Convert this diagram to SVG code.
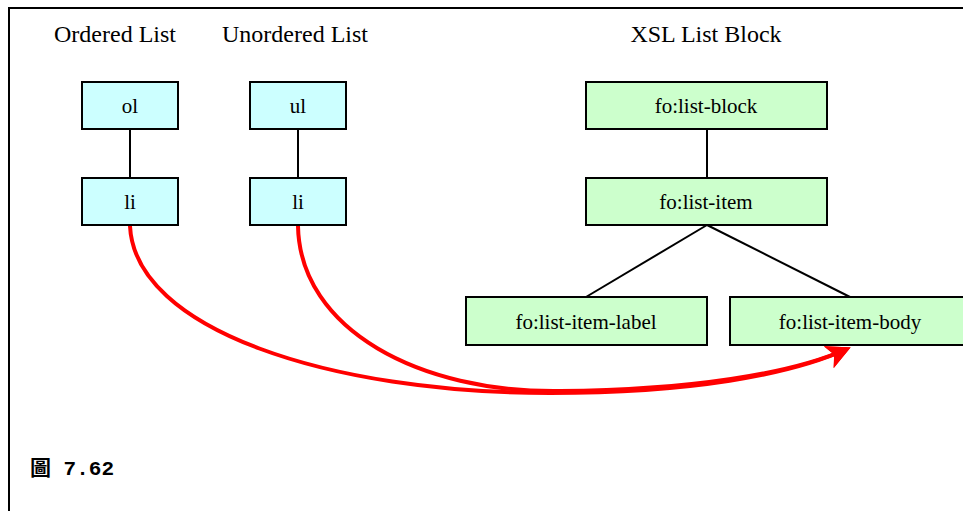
<svg xmlns="http://www.w3.org/2000/svg" width="963" height="511" viewBox="0 0 963 511">
<defs>
<style>
.frame{fill:none;stroke:#000;stroke-width:2}
.b{stroke:#000;stroke-width:2}
.c{fill:#ccffff}
.g{fill:#ccffcc}
.t{font-size:21px;fill:#000;text-anchor:middle}
.h{font-size:24px;fill:#000;text-anchor:middle}
.ln{stroke:#000;stroke-width:2;fill:none}
.red{stroke:#ff0000;stroke-width:4;fill:none}
</style>
<marker id="ah" viewBox="0 0 12 12" refX="10" refY="6" markerWidth="6" markerHeight="6" orient="auto" markerUnits="strokeWidth">
<path d="M0,0 L12,6 L0,12 L3,6 Z" fill="#ff0000"/>
</marker>
</defs>
<rect width="963" height="511" fill="#fff"/>
<path class="frame" d="M9,511 V8 H963"/>
<g font-family="Liberation Serif, Times New Roman, Tinos, serif">
<text class="h" x="115" y="42">Ordered List</text>
<text class="h" x="295" y="42">Unordered List</text>
<text class="h" x="706" y="42">XSL List Block</text>
<g id="connectors">
<line class="ln" x1="130" y1="129" x2="130" y2="178"/>
<line class="ln" x1="298" y1="129" x2="298" y2="178"/>
<line class="ln" x1="707" y1="129" x2="707" y2="178"/>
<line class="ln" x1="707" y1="225" x2="586" y2="297"/>
<line class="ln" x1="707" y1="225" x2="850" y2="297"/>
<path class="red" d="M130,226 C135,330 330,393 550,393 C690,393 790,375 847,349" marker-end="url(#ah)"/>
<path class="red" d="M298,226 C300,330 420,393 560,391 C690,390 790,374 847,349" marker-end="url(#ah)"/>
</g>
<g id="ol"><rect class="b c" x="82" y="82" width="96" height="47"/><text class="t" x="130" y="113">ol</text></g>
<g id="li1"><rect class="b c" x="82" y="178" width="96" height="47"/><text class="t" x="130" y="209">li</text></g>
<g id="ul"><rect class="b c" x="250" y="82" width="96" height="47"/><text class="t" x="298" y="113">ul</text></g>
<g id="li2"><rect class="b c" x="250" y="178" width="96" height="47"/><text class="t" x="298" y="209">li</text></g>
<g id="list-block"><rect class="b g" x="586" y="82" width="241" height="47"/><text class="t" x="706" y="113">fo:list-block</text></g>
<g id="list-item"><rect class="b g" x="586" y="178" width="241" height="47"/><text class="t" x="706" y="209">fo:list-item</text></g>
<g id="list-item-label"><rect class="b g" x="466" y="297" width="241" height="48"/><text class="t" x="586" y="329">fo:list-item-label</text></g>
<g id="list-item-body"><rect class="b g" x="730" y="297" width="241" height="48"/><text class="t" x="850" y="329">fo:list-item-body</text></g>
</g>
<text x="30" y="475" font-family="Liberation Mono, Noto Sans CJK TC, monospace" font-size="21" font-weight="bold" fill="#000">圖 7.62</text>
</svg>
